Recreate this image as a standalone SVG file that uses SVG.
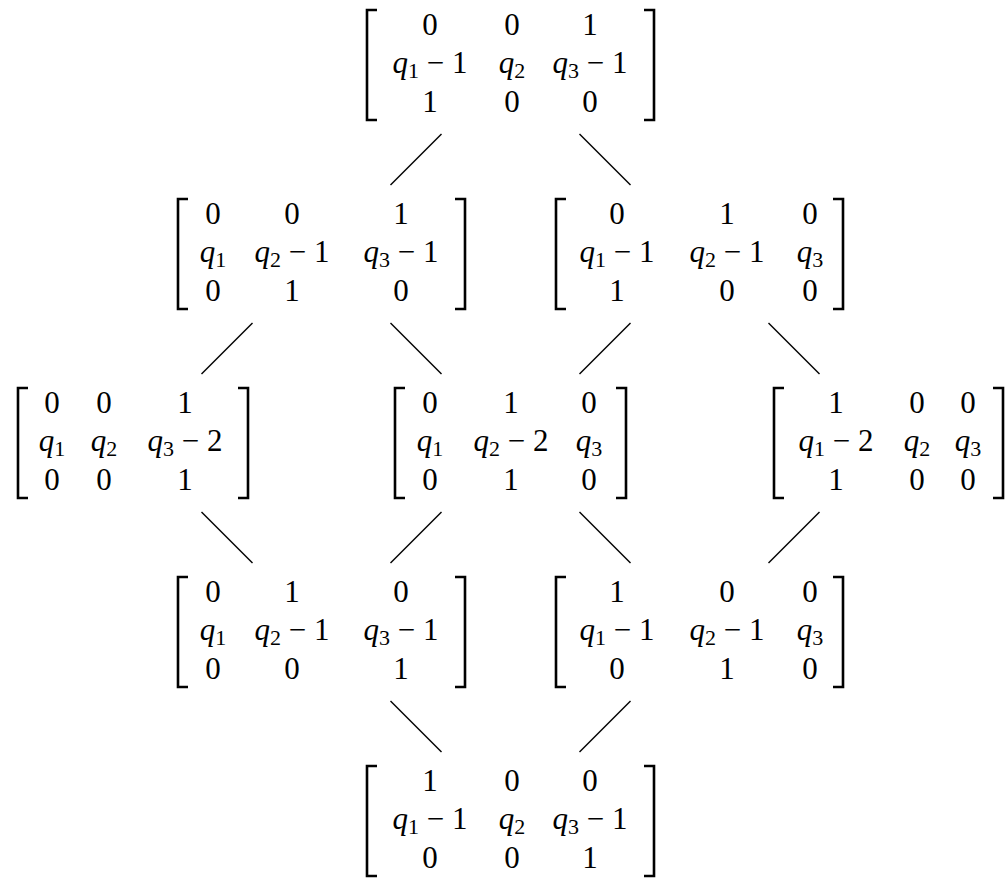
<svg xmlns="http://www.w3.org/2000/svg" width="1006" height="878" viewBox="0 0 1006 878">
<style>
.t { font-size: 31px; fill: #000; text-anchor: middle; font-family: "Liberation Serif", "Times New Roman", serif; }
.i { font-style: italic; }
.s { font-size: 22px; }
.br { fill: none; stroke: #000; stroke-width: 2.6; stroke-linejoin: miter; stroke-linecap: butt; }
.ln { stroke: #000; stroke-width: 1.4; fill: none; }
</style>
<rect width="1006" height="878" fill="#fff"/>
<g id="connectors">
<line class="ln" x1="441.5" y1="134" x2="390.5" y2="185"/>
<line class="ln" x1="579.5" y1="134" x2="630.5" y2="185"/>
<line class="ln" x1="252.5" y1="323" x2="201.5" y2="374"/>
<line class="ln" x1="390.5" y1="323" x2="441.5" y2="374"/>
<line class="ln" x1="630.5" y1="323" x2="579.5" y2="374"/>
<line class="ln" x1="768.5" y1="323" x2="819.5" y2="374"/>
<line class="ln" x1="201.5" y1="512" x2="252.5" y2="563"/>
<line class="ln" x1="441.5" y1="512" x2="390.5" y2="563"/>
<line class="ln" x1="579.5" y1="512" x2="630.5" y2="563"/>
<line class="ln" x1="819.5" y1="512" x2="768.5" y2="563"/>
<line class="ln" x1="390.5" y1="701" x2="441.5" y2="752"/>
<line class="ln" x1="630.5" y1="701" x2="579.5" y2="752"/>
</g>
<g class="t">
<g id="m1">
<path class="br" d="M377 10 H367 V120 H377"/>
<path class="br" d="M644 10 H654 V120 H644"/>
<text x="430" y="35">0</text><text x="512" y="35">0</text><text x="590" y="35">1</text>
<text x="430" y="73"><tspan class="i">q</tspan><tspan class="s" dy="5">1</tspan><tspan dy="-5"> − 1</tspan></text>
<text x="512" y="73"><tspan class="i">q</tspan><tspan class="s" dy="5">2</tspan></text>
<text x="590" y="73"><tspan class="i">q</tspan><tspan class="s" dy="5">3</tspan><tspan dy="-5"> − 1</tspan></text>
<text x="430" y="112">1</text><text x="512" y="112">0</text><text x="590" y="112">0</text>
</g>
<g id="m2">
<path class="br" d="M188 199 H178 V309 H188"/>
<path class="br" d="M455 199 H465 V309 H455"/>
<text x="213" y="224">0</text><text x="292" y="224">0</text><text x="401" y="224">1</text>
<text x="213" y="262"><tspan class="i">q</tspan><tspan class="s" dy="5">1</tspan></text>
<text x="292" y="262"><tspan class="i">q</tspan><tspan class="s" dy="5">2</tspan><tspan dy="-5"> − 1</tspan></text>
<text x="401" y="262"><tspan class="i">q</tspan><tspan class="s" dy="5">3</tspan><tspan dy="-5"> − 1</tspan></text>
<text x="213" y="301">0</text><text x="292" y="301">1</text><text x="401" y="301">0</text>
</g>
<g id="m3">
<path class="br" d="M566 199 H556 V309 H566"/>
<path class="br" d="M833 199 H843 V309 H833"/>
<text x="617" y="224">0</text><text x="727" y="224">1</text><text x="810" y="224">0</text>
<text x="617" y="262"><tspan class="i">q</tspan><tspan class="s" dy="5">1</tspan><tspan dy="-5"> − 1</tspan></text>
<text x="727" y="262"><tspan class="i">q</tspan><tspan class="s" dy="5">2</tspan><tspan dy="-5"> − 1</tspan></text>
<text x="810" y="262"><tspan class="i">q</tspan><tspan class="s" dy="5">3</tspan></text>
<text x="617" y="301">1</text><text x="727" y="301">0</text><text x="810" y="301">0</text>
</g>
<g id="m4">
<path class="br" d="M28 388 H18 V498 H28"/>
<path class="br" d="M238 388 H248 V498 H238"/>
<text x="52" y="413">0</text><text x="104" y="413">0</text><text x="185" y="413">1</text>
<text x="52" y="451"><tspan class="i">q</tspan><tspan class="s" dy="5">1</tspan></text>
<text x="104" y="451"><tspan class="i">q</tspan><tspan class="s" dy="5">2</tspan></text>
<text x="185" y="451"><tspan class="i">q</tspan><tspan class="s" dy="5">3</tspan><tspan dy="-5"> − 2</tspan></text>
<text x="52" y="490">0</text><text x="104" y="490">0</text><text x="185" y="490">1</text>
</g>
<g id="m5">
<path class="br" d="M405 388 H395 V498 H405"/>
<path class="br" d="M616 388 H626 V498 H616"/>
<text x="430" y="413">0</text><text x="511" y="413">1</text><text x="589" y="413">0</text>
<text x="430" y="451"><tspan class="i">q</tspan><tspan class="s" dy="5">1</tspan></text>
<text x="511" y="451"><tspan class="i">q</tspan><tspan class="s" dy="5">2</tspan><tspan dy="-5"> − 2</tspan></text>
<text x="589" y="451"><tspan class="i">q</tspan><tspan class="s" dy="5">3</tspan></text>
<text x="430" y="490">0</text><text x="511" y="490">1</text><text x="589" y="490">0</text>
</g>
<g id="m6">
<path class="br" d="M784 388 H774 V498 H784"/>
<path class="br" d="M993 388 H1003 V498 H993"/>
<text x="836" y="413">1</text><text x="917" y="413">0</text><text x="968" y="413">0</text>
<text x="836" y="451"><tspan class="i">q</tspan><tspan class="s" dy="5">1</tspan><tspan dy="-5"> − 2</tspan></text>
<text x="917" y="451"><tspan class="i">q</tspan><tspan class="s" dy="5">2</tspan></text>
<text x="968" y="451"><tspan class="i">q</tspan><tspan class="s" dy="5">3</tspan></text>
<text x="836" y="490">1</text><text x="917" y="490">0</text><text x="968" y="490">0</text>
</g>
<g id="m7">
<path class="br" d="M188 577 H178 V687 H188"/>
<path class="br" d="M455 577 H465 V687 H455"/>
<text x="213" y="602">0</text><text x="292" y="602">1</text><text x="401" y="602">0</text>
<text x="213" y="640"><tspan class="i">q</tspan><tspan class="s" dy="5">1</tspan></text>
<text x="292" y="640"><tspan class="i">q</tspan><tspan class="s" dy="5">2</tspan><tspan dy="-5"> − 1</tspan></text>
<text x="401" y="640"><tspan class="i">q</tspan><tspan class="s" dy="5">3</tspan><tspan dy="-5"> − 1</tspan></text>
<text x="213" y="679">0</text><text x="292" y="679">0</text><text x="401" y="679">1</text>
</g>
<g id="m8">
<path class="br" d="M566 577 H556 V687 H566"/>
<path class="br" d="M833 577 H843 V687 H833"/>
<text x="617" y="602">1</text><text x="727" y="602">0</text><text x="810" y="602">0</text>
<text x="617" y="640"><tspan class="i">q</tspan><tspan class="s" dy="5">1</tspan><tspan dy="-5"> − 1</tspan></text>
<text x="727" y="640"><tspan class="i">q</tspan><tspan class="s" dy="5">2</tspan><tspan dy="-5"> − 1</tspan></text>
<text x="810" y="640"><tspan class="i">q</tspan><tspan class="s" dy="5">3</tspan></text>
<text x="617" y="679">0</text><text x="727" y="679">1</text><text x="810" y="679">0</text>
</g>
<g id="m9">
<path class="br" d="M377 766 H367 V876 H377"/>
<path class="br" d="M644 766 H654 V876 H644"/>
<text x="430" y="791">1</text><text x="512" y="791">0</text><text x="590" y="791">0</text>
<text x="430" y="829"><tspan class="i">q</tspan><tspan class="s" dy="5">1</tspan><tspan dy="-5"> − 1</tspan></text>
<text x="512" y="829"><tspan class="i">q</tspan><tspan class="s" dy="5">2</tspan></text>
<text x="590" y="829"><tspan class="i">q</tspan><tspan class="s" dy="5">3</tspan><tspan dy="-5"> − 1</tspan></text>
<text x="430" y="868">0</text><text x="512" y="868">0</text><text x="590" y="868">1</text>
</g>
</g>
</svg>
